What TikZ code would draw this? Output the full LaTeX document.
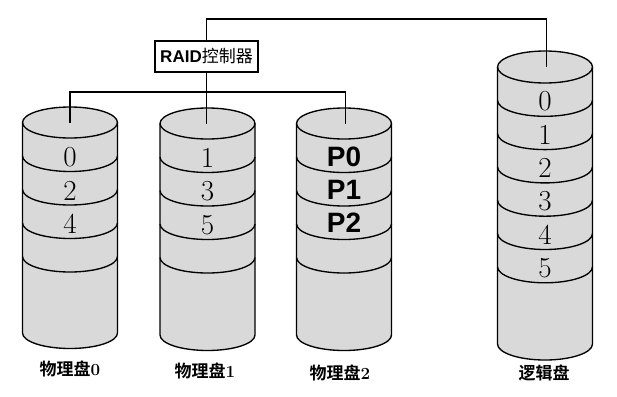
\documentclass[tikz,border=0pt]{standalone}
\usepackage{fontspec}
\newfontfamily\cjk{Noto Sans CJK SC}
\newfontfamily\cjkb{Noto Sans CJK SC Bold}
\newfontfamily\arialf{Liberation Sans}
\tikzset{
  diskfill/.style={fill=gray!30},
  diskline/.style={draw=black,line width=1.35pt},
  wire/.style={draw=black,line width=1.4pt},
  digit/.style={inner sep=0pt,font=\fontsize{29}{29}\selectfont},
  pdigit/.style={inner sep=0pt,font=\arialf\bfseries\fontsize{28}{28}\selectfont},
  disklabel/.style={inner sep=0pt,font=\fontsize{17}{17}\selectfont},
  ctrl/.style={draw=black,line width=1.3pt,fill=white,minimum width=103pt,minimum height=31pt,inner sep=0pt}
}
% #1 cx, #2 top ellipse centre y, #3 bottom ellipse centre y, #4 number of band lines, #5 band step, #6 ry
\newcommand\mycyl[6]{%
  \fill[diskfill] (#1-47.5,-#2) -- (#1-47.5,-#3)
     arc[start angle=180,end angle=360,x radius=47.5pt,y radius=#6pt]
     -- (#1+47.5,-#2)
     arc[start angle=0,end angle=180,x radius=47.5pt,y radius=#6pt] -- cycle;
  \draw[diskline] (#1-47.5,-#2) -- (#1-47.5,-#3)
     arc[start angle=180,end angle=360,x radius=47.5pt,y radius=#6pt]
     -- (#1+47.5,-#2);
  \draw[diskline] (#1,-#2) ellipse[x radius=47.5pt,y radius=#6pt];
  \foreach \k in {1,...,#4}{
    \draw[diskline] (#1-47.5,-#2-#5*\k)
      arc[start angle=180,end angle=360,x radius=47.5pt,y radius=#6pt];
  }%
}
\begin{document}
\begin{tikzpicture}[x=1pt,y=1pt]
\useasboundingbox (0,0) rectangle (617,-396);
% disks
\mycyl{70}{122.5}{333}{4}{33.5}{15.5}
\mycyl{207.5}{123.5}{335}{4}{33.5}{15.5}
\mycyl{344}{123.5}{335}{4}{33.5}{15.5}
\mycyl{545}{67}{344}{6}{33.3}{16}
% top centres
\coordinate (t0) at (70,-122.5);
\coordinate (t1) at (206.5,-124);
\coordinate (t2) at (345.5,-124);
\coordinate (tL) at (546.5,-67);
% controller
\node[ctrl] (raid) at (206.5,-56.5) {{\arialf\bfseries\fontsize{17}{17}\selectfont RAID}{\cjk\fontsize{17}{17}\selectfont 控制器}};
\coordinate (bus) at (206.5,-92);
\coordinate (topbus) at (206.5,-19);
\draw[wire] (raid.north) -- (topbus) -| (tL);
\draw[wire] (raid.south) -- (t1);
\draw[wire] (t0) |- (bus) -| (t2);
% stripes
\node[digit] (d0) at (70,-157) {0};
\node[digit] (d2) at (70,-190.5) {2};
\node[digit] (d4) at (70,-224) {4};
\node[digit] (d1) at (207.5,-158) {1};
\node[digit] (d3) at (207.5,-191.5) {3};
\node[digit] (d5) at (207.5,-225) {5};
\node[pdigit] (p0) at (344,-157) {P0};
\node[pdigit] (p1) at (344,-190) {P1};
\node[pdigit] (p2) at (344,-223) {P2};
\node[digit] (l0) at (545,-101.5) {0};
\node[digit] (l1) at (545,-134.8) {1};
\node[digit] (l2) at (545,-168.1) {2};
\node[digit] (l3) at (545,-201.4) {3};
\node[digit] (l4) at (545,-234.7) {4};
\node[digit] (l5) at (545,-268) {5};
% labels
\node[disklabel] (n0) at (70,-369) {{\cjkb 物理盘}\textbf{0}};
\node[disklabel] (n1) at (205,-371) {{\cjkb 物理盘}\textbf{1}};
\node[disklabel] (n2) at (340,-373) {{\cjkb 物理盘}\textbf{2}};
\node[disklabel] (nL) at (544,-373) {\cjkb 逻辑盘};
\end{tikzpicture}
\end{document}
